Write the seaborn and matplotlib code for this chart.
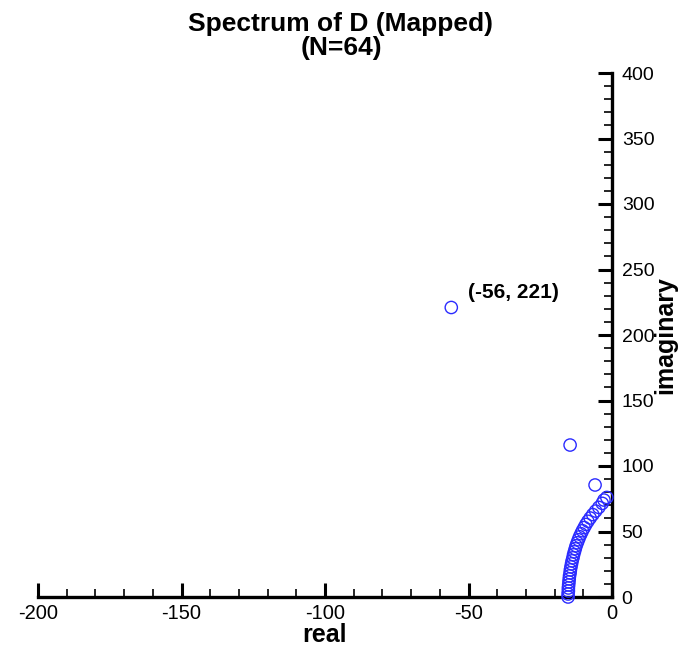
import matplotlib
matplotlib.use("Agg")
import matplotlib.pyplot as plt
from matplotlib.ticker import MultipleLocator
import seaborn as sns
import pandas as pd

sns.set_theme(style="white")
plt.rcParams['font.family'] = ['Liberation Sans', 'DejaVu Sans']
plt.rcParams['axes.unicode_minus'] = False
plt.rcParams['text.color'] = 'black'
plt.rcParams['axes.labelcolor'] = 'black'
plt.rcParams['xtick.color'] = 'black'
plt.rcParams['ytick.color'] = 'black'

# Eigenvalues with non-negative imaginary part
real_part = [-15.3, -15.3, -15.2, -15.2, -15.1, -15.0, -14.9, -14.8, -14.6, -14.5,
             -14.3, -14.1, -13.9, -13.6, -13.4, -13.1, -12.8, -12.5, -12.1, -11.7,
             -11.3, -10.8, -10.3, -9.7, -9.1, -8.4, -7.6, -6.7, -5.7, -4.6,
             -3.4, -2.8, -1.8, -5.9, -14.6, -56.0]
imag_part = [0.0, 2.3, 4.6, 6.9, 9.2, 11.5, 13.8, 16.1, 18.4, 20.7,
             23.0, 25.3, 27.6, 29.9, 32.2, 34.5, 36.8, 39.1, 41.4, 43.7,
             46.0, 48.3, 50.6, 53.0, 55.4, 57.8, 60.3, 62.9, 65.6, 68.4,
             71.5, 74.0, 76.0, 85.5, 116.0, 221.0]

x_ticks = [-200, -150, -100, -50, 0]
y_ticks = [0, 50, 100, 150, 200, 250, 300, 350, 400]

df = pd.DataFrame({"real": real_part, "imaginary": imag_part})

fig = plt.figure(figsize=(6.9, 6.49), dpi=100)
ax = fig.add_axes([38 / 690, 1 - 597 / 649, 574 / 690, 524 / 649])

sns.scatterplot(data=df, x="real", y="imaginary", ax=ax, marker="o",
                s=78, fc="none", ec="#2b2bff", linewidth=1.0,
                clip_on=False, zorder=3)

ax.set_xlim(-200, 0)
ax.set_ylim(0, 400)
ax.set_xticks(x_ticks)
ax.set_yticks(y_ticks)
ax.xaxis.set_minor_locator(MultipleLocator(10))
ax.yaxis.set_minor_locator(MultipleLocator(10))

for side in ("top", "left"):
    ax.spines[side].set_visible(False)
for side in ("bottom", "right"):
    ax.spines[side].set_linewidth(2.4)
    ax.spines[side].set_color("black")

ax.yaxis.tick_right()
ax.yaxis.set_label_position("right")
ax.tick_params(axis="both", which="major", direction="in", length=10,
               width=2.2, color="black", labelcolor="black")
ax.tick_params(axis="x", which="major", labelsize=14.5, pad=5)
ax.tick_params(axis="y", which="major", labelsize=14, pad=7)
ax.tick_params(axis="both", which="minor", direction="in", length=6,
               width=1.2, color="black")
ax.tick_params(axis="x", which="both", bottom=True, top=False)
ax.tick_params(axis="y", which="both", right=True, left=False)

ax.set_xlabel("real", fontsize=18, fontweight="bold", labelpad=0,
              color="black")
ax.set_ylabel("imaginary", fontsize=18, fontweight="bold", labelpad=-1,
              rotation=90, color="black")
ax.grid(False)

ax.annotate("(-56, 221)", xy=(-56, 221), xytext=(12, 4),
            textcoords="offset points", fontsize=15, fontweight="bold",
            ha="left", va="bottom", color="black")

fig.text(341 / 690, 1 - 36 / 649, "Spectrum of D (Mapped)\n(N=64)",
         ha="center", va="center", fontsize=19, fontweight="bold",
         linespacing=1.0, color="black")

fig.savefig("out.png", dpi=100)
